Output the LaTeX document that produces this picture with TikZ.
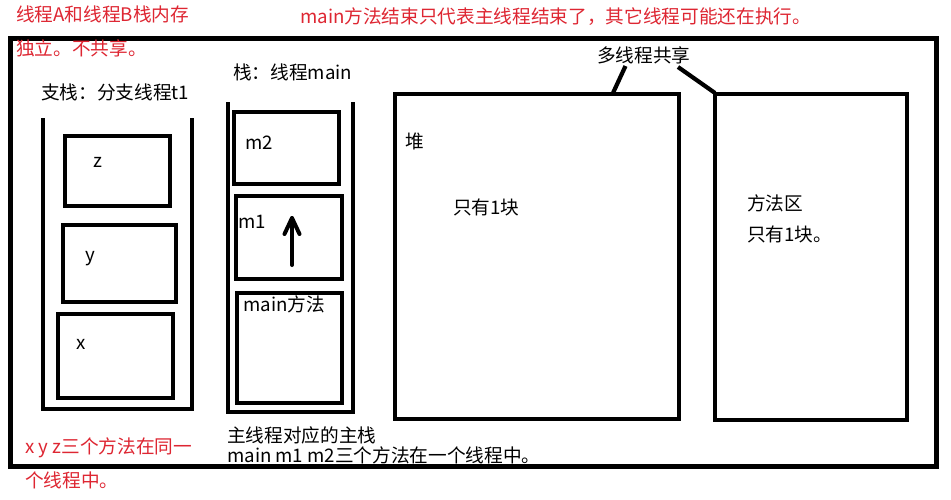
\documentclass[tikz,border=0pt]{standalone}
\usepackage{fontspec}
\setmainfont{Noto Sans CJK SC}
\definecolor{notered}{RGB}{222,38,50}
\begin{document}
\begin{tikzpicture}[x=1pt,y=-1pt,
  txt/.style={anchor=west,inner sep=0pt,font=\fontsize{18.67}{22}\selectfont},
  redtxt/.style={txt,text=notered},
  box/.style={draw,line width=4.2pt,rectangle,inner sep=0pt},
  wall/.style={draw,line width=4.2pt,line cap=rect},
  lnk/.style={draw,line width=4.2pt}]
\useasboundingbox (0,0) rectangle (951,499);
\fill[white] (0,0) rectangle (951,499);
% outer frame
\draw[line width=5pt] (10.5,38) rectangle (936,466);
% left stack (branch thread)
\draw[wall] (43,120) -- (43,409) -- (192,409) -- (192,120);
\node[box,minimum width=105pt,minimum height=70pt] (bz) at (117.5,171) {};
\node[box,minimum width=113pt,minimum height=77pt] (by) at (119.5,263.5) {};
\node[box,minimum width=115pt,minimum height=84pt] (bx) at (115.5,356) {};
\node[txt] (tz) at (93,162) {z};
\node[txt] (ty) at (85,259) {y};
\node[txt] (tx) at (76,344) {x};
% main stack
\draw[wall] (228,104) -- (228,412) -- (353,412) -- (353,104);
\node[box,minimum width=105pt,minimum height=72pt] (bm2) at (286.5,148) {};
\node[box,minimum width=106pt,minimum height=83pt] (bm1) at (289,237.5) {};
\node[box,minimum width=105pt,minimum height=110pt] (bmain) at (289.5,348) {};
\node[txt] (tm2) at (245,143) {m2};
\node[txt] (tm1) at (238,222) {m1};
\node[txt] (tmain) at (243,304) {main方法};
\coordinate (arrS) at (292,265);
\coordinate (arrE) at (292,218);
\draw[line width=4pt,line cap=round] (arrS) -- (arrE);
\draw[line width=4pt,line cap=round,line join=round] (284.5,234) -- (arrE) -- (299.5,234);
% heap and method area
\node[box,minimum width=284pt,minimum height=325pt] (heap) at (537,256.5) {};
\node[box,minimum width=192pt,minimum height=326pt] (meth) at (811,257) {};
\node[txt] (theap) at (405,141) {堆};
\node[txt] (theap2) at (453,207) {只有1块};
\node[txt] (tmeth) at (747,203) {方法区};
\node[txt] (tmeth2) at (747,234) {只有1块。};
% shared label
\node[txt] (share) at (597,55) {多线程共享};
\coordinate (s1) at (625.5,66);
\coordinate (s2) at (678,67);
\coordinate (h1) at (613,93);
\coordinate (m1c) at (715,93);
\draw[lnk] (s1) -- (h1);
\draw[lnk] (s2) -- (m1c);
% stack titles
\node[txt] (tbr) at (41,92) {支栈：分支线程t1};
\node[txt] (tmn) at (233,72) {栈：线程main};
\node[txt] (cap1) at (227,435) {主线程对应的主栈};
\node[txt] (cap2) at (227,455) {main m1 m2三个方法在一个线程中。};
% red notes
\node[redtxt] (r1) at (16,14) {线程A和线程B栈内存};
\node[redtxt] (r2) at (16,48) {独立。不共享。};
\node[redtxt] (r3) at (300,17) {main方法结束只代表主线程结束了，其它线程可能还在执行。};
\node[redtxt] (r4) at (25,448) {x y z三个方法在同一};
\node[redtxt] (r5) at (25,480) {个线程中。};
\end{tikzpicture}
\end{document}
